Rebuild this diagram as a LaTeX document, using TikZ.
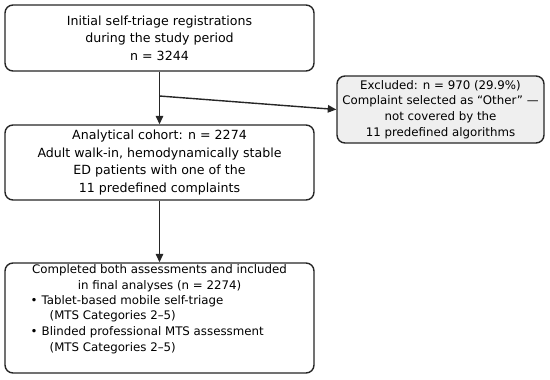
\documentclass[tikz,border=0pt]{standalone}
\usepackage{fontspec}
\setmainfont{DejaVu Sans}
\usetikzlibrary{arrows.meta}
\definecolor{edge}{HTML}{262626}
\definecolor{exfill}{HTML}{EFEFEF}
\begin{document}
\begin{tikzpicture}[x=1bp,y=-1bp,
  box/.style={draw=edge, line width=1.4bp, rounded corners=8bp, fill=white, inner sep=0pt},
  big/.style={font=\fontsize{12.6bp}{17.6bp}\selectfont, align=center, inner sep=0pt},
  small/.style={font=\fontsize{11.8bp}{15.8bp}\selectfont, inner sep=0pt},
  arr/.style={draw=edge, line width=1.4bp, -{Triangle[length=8.5bp,width=7.5bp]}}]
\useasboundingbox (0,0) rectangle (550,379);
\node[box, minimum width=309bp, minimum height=66bp] (b1) at (159.5,38) {};
\node[big] (t1) at (b1.center) {Initial self-triage registrations\\during the study period\\n = 3244};
\node[box, fill=exfill, minimum width=207bp, minimum height=67bp] (b2) at (440.5,109.5) {};
\node[small, align=center] (t2) at (b2.center) {Excluded: n = 970 (29.9\%)\\Complaint selected as “Other” —\\not covered by the\\11 predefined algorithms};
\node[box, minimum width=309bp, minimum height=75bp] (b3) at (159.5,162.5) {};
\node[big] (t3) at (b3.center) {Analytical cohort: n = 2274\\Adult walk-in, hemodynamically stable\\ED patients with one of the\\11 predefined complaints};
\node[box, minimum width=309bp, minimum height=110bp] (b4) at (159.5,318) {};
\node[small, align=center] (t4a) at (159.5,278) {Completed both assessments and included\\in final analyses (n = 2274)};
\node[small, align=left, anchor=west] (t4b) at (30.5,324.5) {\makebox[11bp][l]{•}Tablet-based mobile self-triage\\\hspace{19bp}(MTS Categories 2–5)\\\makebox[11bp][l]{•}Blinded professional MTS assessment\\\hspace{19bp}(MTS Categories 2–5)};
\coordinate (br) at (159.5,96);
\draw[arr] (b1.south) -- (b3.north);
\draw[arr] (br) -- (b2.west);
\draw[arr] (b3.south) -- (b4.north);
\end{tikzpicture}
\end{document}
